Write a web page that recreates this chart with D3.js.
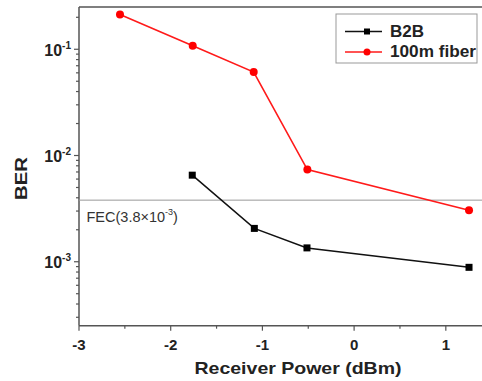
<!DOCTYPE html>
<html><head><meta charset="utf-8">
<script src="https://cdn.jsdelivr.net/npm/d3@7/dist/d3.min.js"></script>
<style>body{margin:0;background:#fff;}svg{display:block;font-family:"Liberation Sans",Arial,sans-serif;}</style>
</head><body>
<svg id="c" width="482" height="381"></svg>
<script>
const b2bX = [-1.765, -1.088, -0.514, 1.253];
const b2bY = [0.00653, 0.00206, 0.00135, 0.000886];
const fibX = [-2.553, -1.76, -1.095, -0.51, 1.253];
const fibY = [0.212, 0.108, 0.061, 0.00738, 0.00305];
const xTicks = [-3, -2, -1, 0, 1];
const yTickExps = [-1, -2, -3];
const fecValue = 3.8e-3;
const seriesNames = ["B2B", "100m fiber"];

const svg = d3.select("#c");
const L = 79, T = 7, B = 325.7;
const x = d3.scaleLinear().domain([-3, 1.4]).range([L, 482.5]);
const y = d3.scaleLog().domain([2.5e-4, 0.25]).range([B, T]);
const axisCol = "#555";

svg.append("line").attr("x1", L).attr("x2", 482).attr("y1", T).attr("y2", T)
  .attr("stroke", axisCol).attr("stroke-width", 1.5);

// x axis
const gx = svg.append("g").attr("transform", `translate(0,${B})`);
gx.append("line").attr("x1", L).attr("x2", 482).attr("stroke", axisCol).attr("stroke-width", 1.5);
const xMinor = d3.range(-3, 1.41, 0.5);
gx.selectAll("line.mn").data(xMinor).enter().append("line")
  .attr("x1", d => x(d)).attr("x2", d => x(d)).attr("y1", 0)
  .attr("y2", d => Number.isInteger(d) ? 5 : 3).attr("stroke", axisCol).attr("stroke-width", 1.2);
gx.selectAll("text").data(xTicks).enter().append("text")
  .attr("x", d => x(d)).attr("y", 24.5).attr("text-anchor", "middle")
  .attr("font-size", 15).attr("font-weight", "bold").attr("fill", "#222")
  .text(d => d);

// y axis
const gy = svg.append("g");
gy.append("line").attr("x1", L).attr("x2", L).attr("y1", T).attr("y2", B)
  .attr("stroke", axisCol).attr("stroke-width", 1.5);
const yMinor = [];
for (let e = -4; e <= -1; e++) for (let m = 1; m <= 9; m++) {
  const v = m * Math.pow(10, e);
  if (v >= 2.5e-4 && v <= 0.25) yMinor.push({v, major: m === 1});
}
gy.selectAll("line.mn").data(yMinor).enter().append("line")
  .attr("x1", L).attr("x2", d => L - (d.major ? 5 : 3))
  .attr("y1", d => y(d.v)).attr("y2", d => y(d.v))
  .attr("stroke", axisCol).attr("stroke-width", 1.2);
const yl = gy.selectAll("text").data(yTickExps).enter().append("text")
  .attr("x", 71).attr("y", d => y(Math.pow(10, d)) + 6.5).attr("text-anchor", "end")
  .attr("font-size", 16).attr("font-weight", "bold").attr("fill", "#222");
yl.append("tspan").text("10");
yl.append("tspan").attr("font-size", 10).attr("dy", -7).text(d => "-" + Math.abs(d));

// axis titles
svg.append("text").attr("x", 298).attr("y", 374).attr("text-anchor", "middle")
  .attr("font-size", 17).attr("font-weight", "bold").attr("fill", "#222")
  .attr("textLength", 207).attr("lengthAdjust", "spacingAndGlyphs")
  .text("Receiver Power (dBm)");
svg.append("text").attr("transform", "translate(27,178.5) rotate(-90)").attr("text-anchor", "middle")
  .attr("font-size", 17).attr("font-weight", "bold").attr("fill", "#222")
  .attr("textLength", 43).attr("lengthAdjust", "spacingAndGlyphs").text("BER");

// FEC line
svg.append("line").attr("x1", L).attr("x2", 482).attr("y1", y(fecValue)).attr("y2", y(fecValue))
  .attr("stroke", "#999").attr("stroke-width", 1);
const ft = svg.append("text").attr("x", 86.5).attr("y", y(fecValue) + 21.5)
  .attr("font-size", 14.5).attr("fill", "#333");
ft.append("tspan").text("FEC(3.8×10");
ft.append("tspan").attr("font-size", 9).attr("dy", -7).text("-3");
ft.append("tspan").attr("dy", 7).text(")");

// series
const line = d3.line().x(d => x(d[0])).y(d => y(d[1]));
const b2b = b2bX.map((v, i) => [v, b2bY[i]]);
const fib = fibX.map((v, i) => [v, fibY[i]]);
svg.append("path").datum(b2b).attr("d", line).attr("fill", "none").attr("stroke", "#111").attr("stroke-width", 1.5);
svg.selectAll("rect.b").data(b2b).enter().append("rect")
  .attr("x", d => x(d[0]) - 3.5).attr("y", d => y(d[1]) - 3.5).attr("width", 7).attr("height", 7).attr("fill", "#000");
svg.append("path").datum(fib).attr("d", line).attr("fill", "none").attr("stroke", "#ff1a1a").attr("stroke-width", 1.6);
svg.selectAll("circle.f").data(fib).enter().append("circle")
  .attr("cx", d => x(d[0])).attr("cy", d => y(d[1])).attr("r", 4).attr("fill", "#ff0000");

// legend
const lg = svg.append("g");
lg.append("rect").attr("x", 336).attr("y", 14).attr("width", 141).attr("height", 49)
  .attr("fill", "#fff").attr("stroke", "#999").attr("stroke-width", 1);
const cols = ["#111", "#ff1a1a"];
const legW = [34, 86];
seriesNames.forEach((n, i) => {
  const yy = 31.5 + i * 20.5;
  lg.append("line").attr("x1", 345).attr("x2", 382).attr("y1", yy).attr("y2", yy)
    .attr("stroke", cols[i]).attr("stroke-width", 1.5);
  if (i === 0) lg.append("rect").attr("x", 367 - 3).attr("y", yy - 3).attr("width", 6).attr("height", 6).attr("fill", "#000");
  else lg.append("circle").attr("cx", 367).attr("cy", yy).attr("r", 3.5).attr("fill", "#ff0000");
  lg.append("text").attr("x", 390).attr("y", yy + 5).attr("font-size", 16).attr("font-weight", "bold")
    .attr("fill", "#222").attr("textLength", legW[i]).attr("lengthAdjust", "spacingAndGlyphs").text(n);
});
</script>
</body></html>
